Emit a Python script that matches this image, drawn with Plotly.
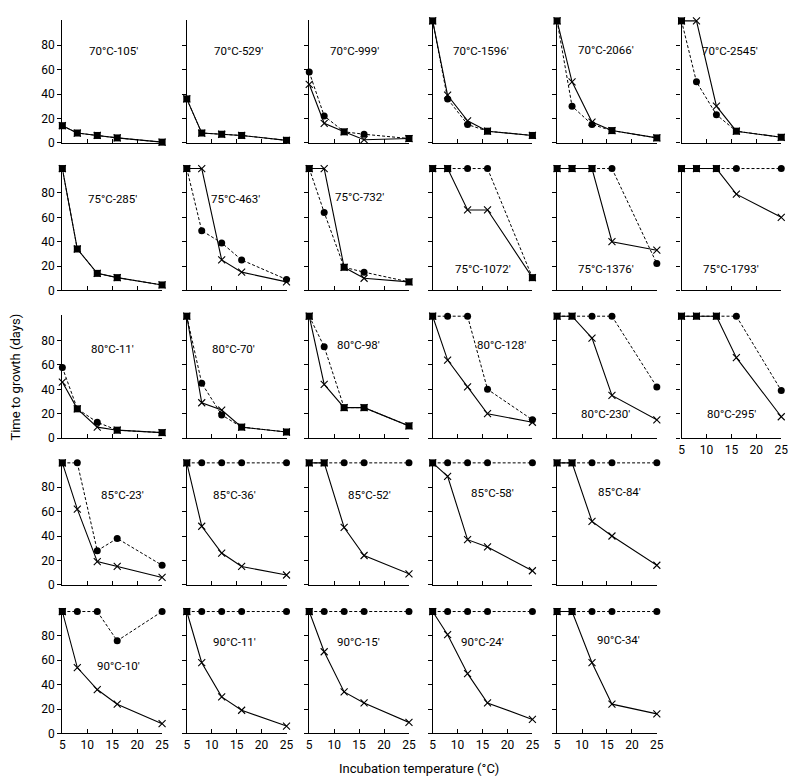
import plotly.graph_objects as go

# ---------------- data ----------------
temps = [5, 8, 12, 16, 25]  # incubation temperature (°C)

panel_labels = [
    "70°C-105′", "70°C-529′", "70°C-999′", "70°C-1596′", "70°C-2066′", "70°C-2545′",
    "75°C-285′", "75°C-463′", "75°C-732′", "75°C-1072′", "75°C-1376′", "75°C-1793′",
    "80°C-11′", "80°C-70′", "80°C-98′", "80°C-128′", "80°C-230′", "80°C-295′",
    "85°C-23′", "85°C-36′", "85°C-52′", "85°C-58′", "85°C-84′",
    "90°C-10′", "90°C-11′", "90°C-15′", "90°C-24′", "90°C-34′",
]

# time to growth (days), series drawn as solid line with x markers
cross_series = [
    [14, 8, 6, 4, 0.5], [36, 8, 7, 6, 2], [48, 16, 9, 2.5, 3.5],
    [100, 39, 18, 9.5, 6], [100, 50, 17, 10, 4], [100, 100, 30, 9.5, 4.5],
    [100, 34, 14, 10.5, 4.5], [100, 100, 25, 15, 7], [100, 100, 19, 10, 7],
    [100, 100, 66, 66, 10.5], [100, 100, 100, 40, 33], [100, 100, 100, 79, 60],
    [46, 24, 9, 6.5, 4.5], [100, 29, 23, 9, 5], [100, 44, 25, 25, 10],
    [100, 64, 42, 20, 13], [100, 100, 82, 35, 15], [100, 100, 100, 66, 17.5],
    [100, 62, 19, 15, 6], [100, 48, 26, 15, 8], [100, 100, 47, 24, 9],
    [100, 89, 37, 31, 11.5], [100, 100, 52, 40, 16],
    [100, 54, 36, 24, 8], [100, 58, 30, 19, 6], [100, 67, 34, 25, 9],
    [100, 81, 49, 25, 11.5], [100, 100, 58, 24, 16],
]

# time to growth (days), series drawn as dashed line with dot markers
dot_series = [
    [14, 8, 6, 4, 0.5], [36, 8, 7, 6, 2], [58, 22, 9, 7, 3.5],
    [100, 36, 15, 9.5, 6], [100, 30, 15, 10, 4], [100, 50, 23, 9.5, 4.5],
    [100, 34, 14, 10.5, 4.5], [100, 49, 39, 25, 9], [100, 64, 19, 15, 7],
    [100, 100, 100, 100, 10.5], [100, 100, 100, 100, 22], [100, 100, 100, 100, 100],
    [58, 24, 13, 6.5, 4.5], [100, 45, 19, 9, 5], [100, 75, 25, 25, 10],
    [100, 100, 100, 40, 15], [100, 100, 100, 100, 42], [100, 100, 100, 100, 39],
    [100, 100, 28, 38, 16], [100, 100, 100, 100, 100], [100, 100, 100, 100, 100],
    [100, 100, 100, 100, 100], [100, 100, 100, 100, 100],
    [100, 100, 100, 76, 100], [100, 100, 100, 100, 100], [100, 100, 100, 100, 100],
    [100, 100, 100, 100, 100], [100, 100, 100, 100, 100],
]

x_ticks = [5, 10, 15, 20, 25]
y_ticks = [0, 20, 40, 60, 80]

# ---------------- layout config ----------------
W, H = 800, 778
row_counts = [6, 6, 6, 5, 5]
col_left = [52, 178, 302, 427, 553, 679]
row_bottom = [136, 285, 434, 582, 732]
PW = 101.0
YMAX = 101
PH = 1.23 * YMAX

label_pos = [
    (15.3, 75), (15.3, 75), (14.1, 75), (14.7, 75), (14.8, 76), (14.7, 75),
    (15.0, 75), (14.8, 75), (15.0, 77), (15.0, 17.5), (14.9, 17.5), (14.9, 17.5),
    (15.1, 73), (14.3, 73), (14.8, 76), (18.8, 76), (14.8, 20), (15.1, 20),
    (17.0, 74), (14.6, 74), (17.1, 74), (17.0, 75), (17.5, 76),
    (16.3, 55), (14.6, 75), (14.9, 75), (15.0, 75), (17.4, 77),
]

FONT = "Roboto"
fig = go.Figure()
layout = dict(
    width=W, height=H, margin=dict(l=0, r=0, t=0, b=0),
    paper_bgcolor="white", plot_bgcolor="white", showlegend=False,
    font=dict(family=FONT, size=12, color="black"),
)
annotations = []

idx = 0
for r, n in enumerate(row_counts):
    for c in range(n):
        k = idx + 1
        xs = "" if k == 1 else str(k)
        x0 = col_left[c] / W
        x1 = (col_left[c] + PW) / W
        y0 = (H - row_bottom[r]) / H
        y1 = (H - row_bottom[r] + PH) / H
        show_x = (r == len(row_counts) - 1) or (r == 2 and c == 5)
        layout["xaxis" + xs] = dict(
            domain=[x0, x1], range=[5, 25], anchor="y" + xs,
            showline=True, linecolor="black", linewidth=1.2,
            ticks="inside", ticklen=4, tickwidth=1, tickcolor="black",
            tickvals=x_ticks, showticklabels=show_x,
            tickfont=dict(family=FONT, size=12),
            showgrid=False, zeroline=False, fixedrange=True,
        )
        layout["yaxis" + xs] = dict(
            domain=[y0, y1], range=[0, YMAX], anchor="x" + xs,
            showline=True, linecolor="black", linewidth=1.2,
            ticks="outside", ticklen=4, tickwidth=1, tickcolor="black",
            tickvals=y_ticks, showticklabels=(c == 0),
            tickfont=dict(family=FONT, size=12),
            showgrid=False, zeroline=False, fixedrange=True,
        )
        cross = cross_series[idx]
        dots = dot_series[idx]
        dot_symbols = ["square" if abs(a - b) < 0.01 else "circle" for a, b in zip(cross, dots)]
        fig.add_trace(go.Scatter(
            x=temps, y=cross, mode="lines+markers", xaxis="x" + xs, yaxis="y" + xs,
            line=dict(color="black", width=1.1),
            marker=dict(symbol="x-thin-open", size=7, line=dict(color="black", width=1.1)),
            cliponaxis=False, hoverinfo="skip",
        ))
        fig.add_trace(go.Scatter(
            x=temps, y=dots, mode="lines+markers", xaxis="x" + xs, yaxis="y" + xs,
            line=dict(color="black", width=1, dash="3px,2px"),
            marker=dict(symbol=dot_symbols, size=7, color="black"),
            cliponaxis=False, hoverinfo="skip",
        ))
        lx, ly = label_pos[idx]
        annotations.append(dict(
            x=lx, y=ly, xref="x" + xs, yref="y" + xs, text=panel_labels[idx],
            showarrow=False, font=dict(family=FONT, size=11.5, color="black"),
            xanchor="center", yanchor="middle",
        ))
        idx += 1

annotations.append(dict(
    x=5 / W, y=(H - 372) / H, xref="paper", yref="paper",
    text="Time to growth (days)", textangle=-90, showarrow=False,
    font=dict(family=FONT, size=13, color="black"), xanchor="center", yanchor="middle",
))
annotations.append(dict(
    x=413 / W, y=(H - 767) / H, xref="paper", yref="paper",
    text="Incubation temperature (°C)", showarrow=False,
    font=dict(family=FONT, size=13, color="black"), xanchor="center", yanchor="middle",
))
layout["annotations"] = annotations
fig.update_layout(**layout)
fig.write_html("out.html")
